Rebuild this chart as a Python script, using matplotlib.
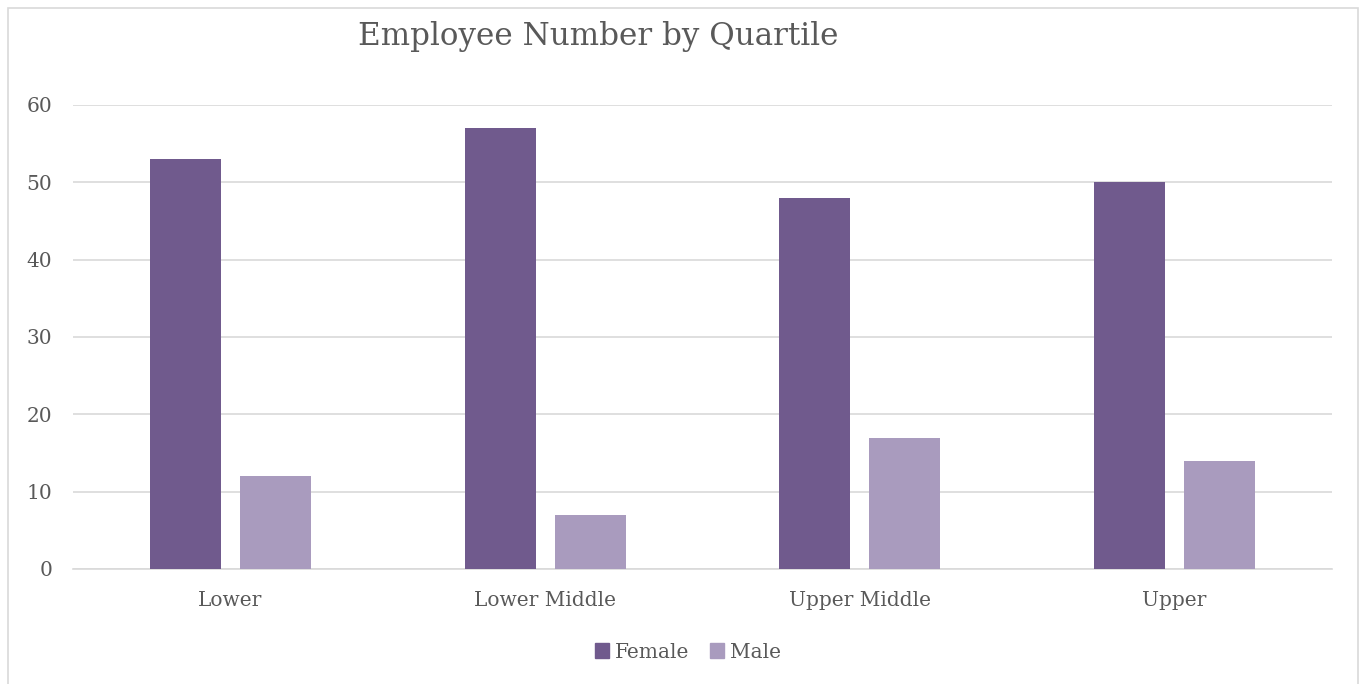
import matplotlib
matplotlib.use("Agg")
import matplotlib.pyplot as plt
from matplotlib.patches import Rectangle, Patch
import numpy as np

categories = ["Lower", "Lower Middle", "Upper Middle", "Upper"]
female = [53, 57, 48, 50]
male = [12, 7, 17, 14]
yticks = [0, 10, 20, 30, 40, 50, 60]

W, H = 1364, 684
fig = plt.figure(figsize=(W / 100, H / 100), dpi=100)
plt.rcParams['font.family'] = ['DejaVu Serif']
txt = '#595959'
c_f = '#705A8D'
c_m = '#A99BBE'
grid = '#D9D9D9'

# outer frame
fig.patches.append(Rectangle((8 / W, -0.01), (1358 - 8) / W, (H - 8) / H + 0.01,
                             transform=fig.transFigure, fill=False,
                             edgecolor=grid, linewidth=1.2))

left, right = 73 / W, 1332 / W
bottom, top = (H - 569) / H, (H - 105) / H
ax = fig.add_axes([left, bottom, right - left, top - bottom])
x = np.arange(len(categories))
bw = 0.225
off = 0.143
ax.bar(x - off, female, width=bw, color=c_f, zorder=3)
ax.bar(x + off, male, width=bw, color=c_m, zorder=3)
ax.set_xlim(-0.5, len(categories) - 0.5)
ax.set_ylim(0, 60)
ax.set_yticks(yticks)
ax.set_xticks(x)
ax.set_xticklabels(categories)
ax.yaxis.grid(True, color=grid, linewidth=1.2, zorder=0)
for s in ['top', 'right', 'left']:
    ax.spines[s].set_visible(False)
ax.spines['bottom'].set_color(grid)
ax.spines['bottom'].set_linewidth(1.2)
ax.tick_params(axis='both', length=0, colors=txt, labelsize=14.5)
ax.tick_params(axis='y', pad=15)
ax.tick_params(axis='x', pad=16)

fig.text(598 / W, 1 - 36 / H, "Employee Number by Quartile", ha='center', va='center',
         fontsize=22.3, color=txt)

handles = [Patch(color=c_f, label='Female'), Patch(color=c_m, label='Male')]
fig.legend(handles=handles, loc='center', bbox_to_anchor=(688 / W, 1 - 652 / H), ncol=2,
           frameon=False, fontsize=14.5, handlelength=0.7, handleheight=0.7,
           handletextpad=0.3, columnspacing=1.0, labelcolor=txt)

fig.savefig("out.png", dpi=100)
